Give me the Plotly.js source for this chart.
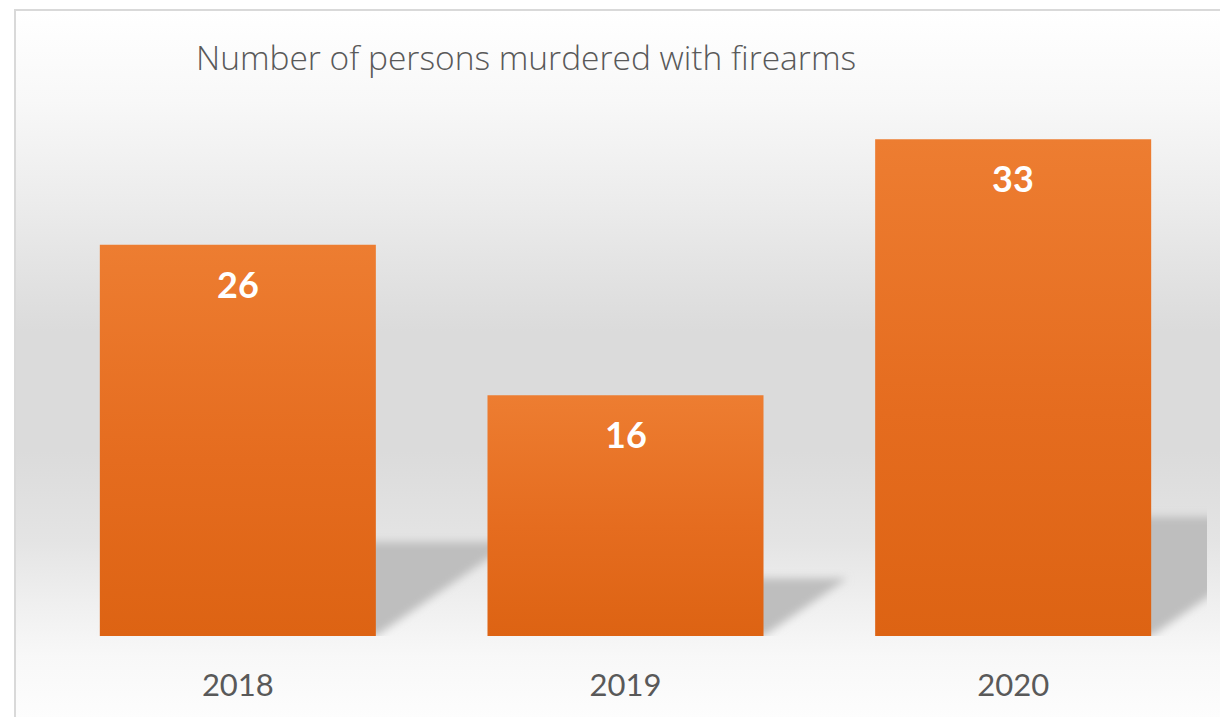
<!DOCTYPE html>
<html>
<head>
<meta charset="utf-8">
<script src="https://cdn.plot.ly/plotly-3.0.1.min.js"></script>
<style>
  html, body { margin: 0; padding: 0; background: #ffffff; }
  #wrap { position: relative; width: 1220px; height: 717px; overflow: hidden; }
  #bg { position: absolute; left: 14px; top: 9px; width: 1206px; height: 708px;
        border-left: 2px solid #d9d9d9; border-top: 2px solid #d9d9d9; box-sizing: border-box;
        background: linear-gradient(to bottom, #ffffff 0px, #f8f8f8 90px, #ececec 190px, #dbdbdb 320px,
                    #dbdbdb 440px, #e4e4e4 530px, #efefef 590px, #f8f8f8 645px, #fdfdfd 708px); }
  #chart { position: absolute; left: 0; top: 0; width: 1220px; height: 717px; }
</style>
</head>
<body>
<div id="wrap"><div id="bg"></div><div id="chart"></div></div>
<script>
const chartTitle = "Number of persons murdered with firearms";
const years = ["2018", "2019", "2020"];
const murdered = [26, 16, 33];

const idx = years.map((_, i) => i);
const barWidth = 0.712;
const half = barWidth / 2;

// perspective shadows derived from each bar's value
const shadowShapes = murdered.map((v, i) => {
  const h = 0.24 * v;               // shadow height in data units
  const shift = (1.45 * h * 15.06) / 387.7; // horizontal skew in category units
  return {
    type: 'path', xref: 'x', yref: 'y', layer: 'below',
    path: `M ${i - half + 0.01} 0 L ${i + half} 0 L ${i + half + shift} ${h} L ${i - half + shift} ${h} Z`,
    fillcolor: '#bebebe', line: { width: 0 }
  };
});

const labels = murdered.map((v, i) => ({
  x: i, y: v, xref: 'x', yref: 'y', text: String(v), showarrow: false,
  yanchor: 'top', yshift: -15,
  font: { family: 'Lato, "Open Sans", sans-serif', size: 36, color: '#ffffff', weight: 700 }
}));

const trace = {
  type: 'bar', x: idx, y: murdered, width: barWidth,
  marker: { color: '#E56F22', line: { width: 0 } },
  hoverinfo: 'none'
};

const layout = {
  width: 1220, height: 717,
  paper_bgcolor: 'rgba(0,0,0,0)', plot_bgcolor: 'rgba(0,0,0,0)',
  margin: { l: 44, r: 13, t: 64, b: 81 },
  showlegend: false,
  title: {
    text: chartTitle, xref: 'container', yref: 'container',
    x: 196 / 1220, xanchor: 'left', y: 1 - 58 / 717, yanchor: 'middle',
    font: { family: '"Open Sans", Lato, sans-serif', size: 33.5, color: '#595959', weight: 300 }
  },
  xaxis: {
    range: [-0.5, 2.5], tickvals: idx, ticktext: years,
    showgrid: false, zeroline: false, showline: false, ticks: '',
    ticklabelstandoff: 28,
    tickfont: { family: 'Lato, "Open Sans", sans-serif', size: 31, color: '#595959' },
    fixedrange: true
  },
  yaxis: {
    range: [0, 38], visible: false, showgrid: false, zeroline: false, fixedrange: true
  },
  shapes: shadowShapes,
  annotations: labels
};

Plotly.newPlot('chart', [trace], layout, { staticPlot: true, displayModeBar: false }).then(gd => {
  const svgNS = 'http://www.w3.org/2000/svg';
  const svg = gd.querySelector('.main-svg');
  let defs = svg.querySelector('defs');
  if (!defs) { defs = document.createElementNS(svgNS, 'defs'); svg.insertBefore(defs, svg.firstChild); }
  const grad = document.createElementNS(svgNS, 'linearGradient');
  grad.setAttribute('id', 'barGrad');
  grad.setAttribute('x1', '0'); grad.setAttribute('y1', '0');
  grad.setAttribute('x2', '0'); grad.setAttribute('y2', '1');
  [['0', '#ED7D31'], ['0.55', '#E56C1F'], ['1', '#DD6313']].forEach(([o, c]) => {
    const s = document.createElementNS(svgNS, 'stop');
    s.setAttribute('offset', o); s.setAttribute('stop-color', c);
    grad.appendChild(s);
  });
  defs.appendChild(grad);
  const filt = document.createElementNS(svgNS, 'filter');
  filt.setAttribute('id', 'shBlur');
  filt.setAttribute('x', '-20%'); filt.setAttribute('y', '-20%');
  filt.setAttribute('width', '140%'); filt.setAttribute('height', '140%');
  const blur = document.createElementNS(svgNS, 'feGaussianBlur');
  blur.setAttribute('stdDeviation', '4');
  filt.appendChild(blur);
  defs.appendChild(filt);
  gd.querySelectorAll('.bars .point path').forEach(p => { p.style.fill = 'url(#barGrad)'; });
  gd.querySelectorAll('.shapelayer path').forEach(p => { p.style.filter = 'url(#shBlur)'; });
});
</script>
</body>
</html>
